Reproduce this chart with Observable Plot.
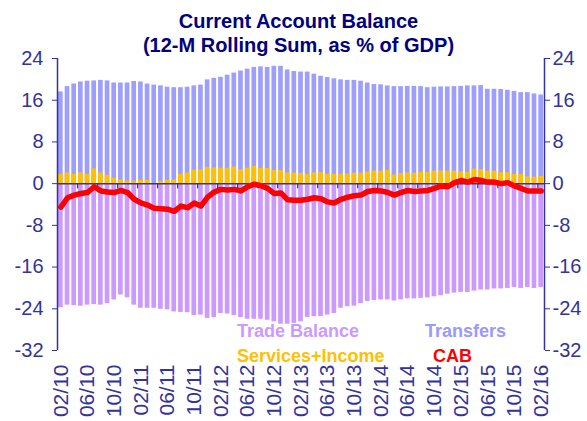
<!DOCTYPE html>
<html><head><meta charset="utf-8">
<script src="https://cdn.jsdelivr.net/npm/d3@7"></script>
<script src="https://cdn.jsdelivr.net/npm/@observablehq/plot@0.6"></script>
<style>
body{margin:0;background:#fff;}
#wrap{position:relative;width:587px;height:421px;font-family:"Liberation Sans",Arial,sans-serif;}
#wrap svg{display:block;}
.t{position:absolute;left:0;width:597px;text-align:center;color:#000080;font-weight:bold;font-size:20px;line-height:24px;}
.lg{position:absolute;font-weight:bold;font-size:18px;line-height:18px;white-space:nowrap;}
</style></head><body><div id="wrap"></div>
<script>
// Monthly categories Feb 2010 .. Feb 2016
const months = d3.utcMonth.range(new Date(Date.UTC(2010,1,1)), new Date(Date.UTC(2016,2,1)));
const tickLabels = ["02/10","06/10","10/10","02/11","06/11","10/11","02/12","06/12","10/12","02/13","06/13","10/13","02/14","06/14","10/14","02/15","06/15","10/15","02/16"];
const yTicks = [-32,-24,-16,-8,0,8,16,24];

const transfers = [17.6,18.6,19.1,19.5,19.65,19.7,19.8,19.7,19.3,19.3,19.3,19.6,19.5,19.1,18.9,18.75,18.5,18.4,18.4,18.5,18.75,18.9,19.9,20.2,20.4,20.8,21.2,21.6,21.95,22.3,22.4,22.3,22.5,22.5,21.8,21.5,21.4,
  21.4,21.0,20.6,20.35,20.1,19.9,19.8,19.8,19.65,19.3,19.0,18.95,18.75,18.6,18.6,18.65,18.65,18.6,18.4,18.5,18.55,18.55,18.6,18.65,18.75,18.75,18.8,18.1,18.1,18.05,17.9,17.7,17.45,17.45,17.2,17.0];
const services = [1.75,2.05,1.75,2.05,1.75,2.85,2.05,1.6,1.05,0.75,0.5,0.5,0.65,0.65,0.0,0.45,0.65,0.75,1.75,2.05,2.6,2.65,3.15,3.0,2.95,2.95,3.2,2.7,2.95,3.3,2.95,2.9,2.5,2.5,2.05,2.05,
  1.95,1.75,2.05,2.1,1.8,1.8,1.8,1.85,2.0,2.0,2.2,2.4,2.4,2.55,1.65,1.95,2.05,2.0,2.15,2.15,2.4,2.4,2.4,2.4,2.25,2.15,2.8,2.7,2.4,2.4,2.1,2.1,1.75,1.75,1.3,1.25,1.4];
const trade = [-23.8,-23.3,-23.4,-23.5,-23.3,-23.2,-23.3,-23.0,-22.3,-21.35,-21.9,-23.3,-23.9,-23.9,-23.9,-24.1,-24.2,-24.6,-24.7,-24.75,-25.3,-25.2,-25.85,-25.7,-24.9,-25.0,-25.3,-25.7,-26.0,-26.0,-26.0,-26.2,-26.5,-26.95,-26.95,-26.8,-26.5,
  -25.65,-25.5,-25.5,-25.2,-24.9,-23.9,-23.6,-23.5,-23.0,-22.6,-22.4,-22.3,-22.3,-22.5,-22.3,-22.1,-22.1,-22.0,-21.9,-21.7,-21.5,-21.2,-21.0,-20.85,-20.9,-20.6,-20.4,-20.4,-20.2,-20.2,-20.1,-19.9,-20.1,-19.9,-20.1,-19.9];
const cab = [-4.5,-2.7,-2.2,-1.9,-1.7,-0.6,-1.4,-1.6,-1.7,-1.3,-1.7,-3.0,-3.7,-4.1,-4.7,-4.8,-4.9,-5.3,-4.3,-4.6,-3.7,-4.3,-2.6,-1.6,-1.1,-1.2,-1.1,-1.4,-0.6,-0.1,-0.4,-0.9,-1.9,-1.8,-3.1,-3.2,-3.2,
  -3.0,-2.7,-2.9,-3.5,-3.7,-3.0,-2.6,-2.3,-2.2,-1.5,-1.3,-1.4,-1.7,-2.2,-1.7,-1.3,-1.5,-1.4,-1.3,-0.9,-0.45,-0.6,0.2,0.6,0.3,0.8,0.6,0.3,0.3,0.0,0.2,-0.45,-0.9,-1.4,-1.4,-1.4];

const navy = "#333399";
const n = months.length;
const data = d3.range(n).map(i => ({i, transfers: transfers[i], services: services[i], trade: trade[i], cab: cab[i]}));
const tickIdx = tickLabels.map((_, k) => k * 4);
const minorIdx = d3.range(0, 24).map(k => 2.5 + 3 * k);
const half = 0.35;
const fmtY = d => String(d);

const chart = Plot.plot({
  width: 587, height: 421,
  marginLeft: 57, marginRight: 43, marginTop: 58, marginBottom: 71,
  x: {domain: [-0.5, n - 0.5], axis: null, label: null},
  y: {domain: [-32, 24], axis: null, label: null},
  style: {fontFamily: "'Liberation Sans', Arial, sans-serif", background: "white", color: navy},
  marks: [
    Plot.rect(data, {x1: d => d.i - half, x2: d => d.i + half, y1: 0, y2: "transfers", fill: "#9E9EFF"}),
    Plot.rect(data, {x1: d => d.i - half, x2: d => d.i + half, y1: 0, y2: "services", fill: "#FFC000"}),
    Plot.rect(data, {x1: d => d.i - half, x2: d => d.i + half, y1: 0, y2: "trade", fill: "#CC99FF"}),
    Plot.ruleY([0], {stroke: navy, strokeWidth: 1.5}),
    Plot.ruleX(minorIdx, {x: d => d, y1: 0, y2: -1, stroke: navy, strokeWidth: 1.2}),
    Plot.line(data, {x: "i", y: "cab", stroke: "#FF0000", strokeWidth: 5.5, strokeLinejoin: "round", strokeLinecap: "round"}),
    Plot.ruleX([-0.5, n - 0.5], {y1: -32, y2: 24, stroke: navy, strokeWidth: 1.5}),
    Plot.axisY({anchor: "left", ticks: yTicks, tickFormat: fmtY, tickSize: 5, tickPadding: 9, fontSize: 20, stroke: navy, label: null}),
    Plot.axisY({anchor: "right", ticks: yTicks, tickFormat: fmtY, tickSize: 5, tickPadding: 3, fontSize: 20, stroke: navy, label: null}),
    Plot.axisX({ticks: tickIdx, tickFormat: i => tickLabels[i / 4], tickRotate: -90, tickSize: 0, tickPadding: 14, fontSize: 21, label: null})
  ]
});
const wrap = document.getElementById("wrap");
wrap.appendChild(chart);

function addDiv(cls, text, style) {
  const d = document.createElement("div");
  d.className = cls; d.textContent = text;
  Object.assign(d.style, style);
  wrap.appendChild(d);
}
addDiv("t", "Current Account Balance", {top: "9px"});
addDiv("t", "(12-M Rolling Sum, as % of GDP)", {top: "33px"});
addDiv("lg", "Trade Balance", {left: "237px", top: "322px", color: "#CC99FF"});
addDiv("lg", "Transfers", {left: "425px", top: "322px", color: "#9999FF"});
addDiv("lg", "Services+Income", {left: "237px", top: "347px", color: "#FFC000"});
addDiv("lg", "CAB", {left: "433px", top: "347px", color: "#FF0000"});
</script>
</body></html>
